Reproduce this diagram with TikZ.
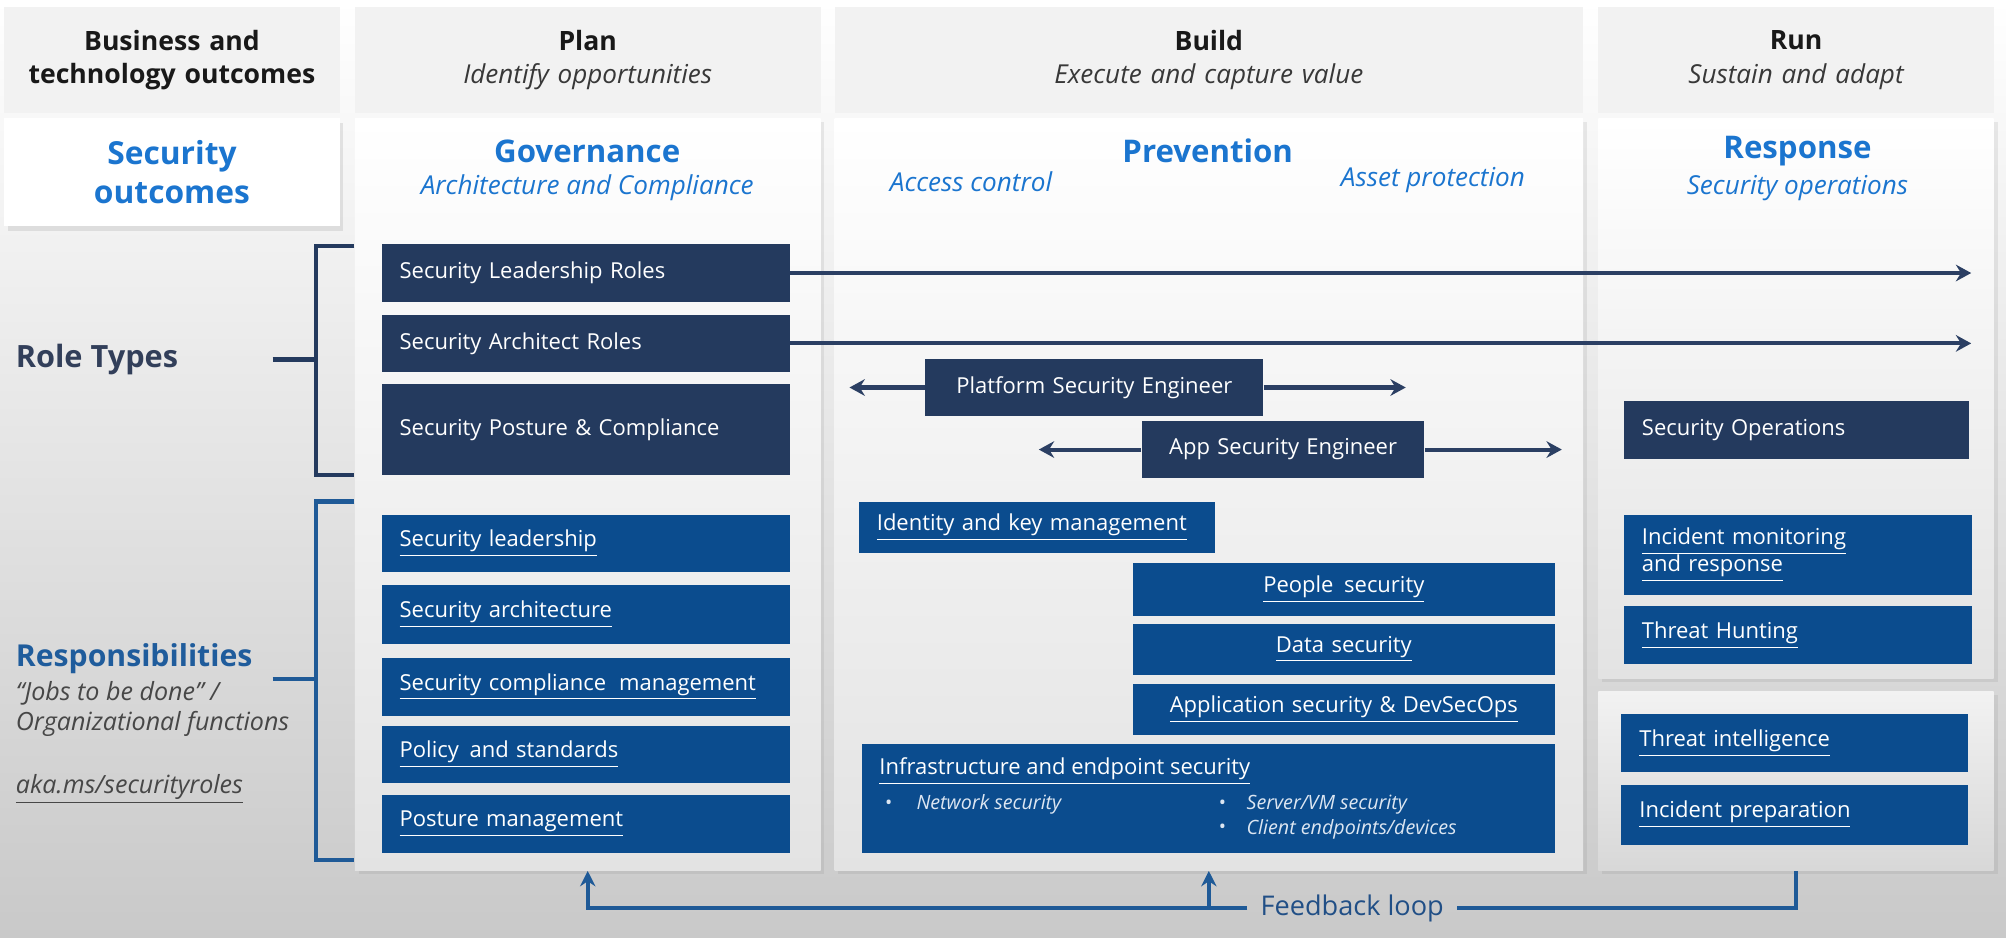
\documentclass[tikz,border=0pt]{standalone}
\usepackage{fontspec}
\setmainfont{Open Sans}
\usetikzlibrary{arrows.meta,shadows}
\definecolor{navy}{HTML}{243A5E}
\definecolor{bluebx}{HTML}{0B4C8E}
\definecolor{titleblue}{HTML}{1B75CF}
\definecolor{arrnavy}{HTML}{2B3F63}
\definecolor{hdrgray}{HTML}{F2F2F2}
\definecolor{bodybot}{HTML}{E3E3E3}
\definecolor{bgmid}{HTML}{F5F5F5}
\definecolor{bgbot}{HTML}{C9C9C9}
\definecolor{rolecol}{HTML}{323F5A}
\definecolor{respcol}{HTML}{1F5C9C}
\definecolor{brblue}{HTML}{1F5A97}
\definecolor{fbcol}{HTML}{214F86}
\definecolor{bullcol}{HTML}{DCE6F2}
\newcommand\lbox[7]{%
 \pgfmathsetmacro\bw{(#5-#3)*0.5}\pgfmathsetmacro\bh{(#6-#4)*0.5}\pgfmathsetmacro\tw{\bw-14}%
 \node[#2, anchor=north west, minimum width=\bw pt, minimum height=\bh pt, inner xsep=7pt, inner ysep=0pt, text width=\tw pt, align=left] (#1) at (#3,#4) {#7};}
\newcommand\cbox[7]{%
 \pgfmathsetmacro\bw{(#5-#3)*0.5}\pgfmathsetmacro\bh{(#6-#4)*0.5}\pgfmathsetmacro\tw{\bw-14}%
 \node[#2, anchor=north west, minimum width=\bw pt, minimum height=\bh pt, inner xsep=7pt, inner ysep=0pt, text width=\tw pt, align=center] (#1) at (#3,#4) {#7};}
\newcommand\hsub[1]{{\mdseries\itshape\fontsize{10.2}{13}\selectfont\color{black!78}#1}}
\begin{document}
\begin{tikzpicture}[x=0.5pt,y=-0.5pt,
  hdr/.style={fill=hdrgray, text=black!90, font=\fontsize{10.4}{13}\selectfont},
  body/.style={top color=white, bottom color=bodybot, drop shadow={shadow xshift=1.5pt, shadow yshift=-1.5pt, opacity=0.15}},
  lowbody/.style={top color=hdrgray, bottom color=bodybot!95!black, drop shadow={shadow xshift=1.5pt, shadow yshift=-1.5pt, opacity=0.15}},
  navybox/.style={fill=navy, text=white, font=\fontsize{8.6}{10.6}\selectfont},
  bluebox/.style={fill=bluebx, text=white, font=\fontsize{8.6}{10.6}\selectfont},
  ttl/.style={text=titleblue, font=\bfseries\fontsize{12.2}{15}\selectfont, inner sep=0},
  sub/.style={text=titleblue, font=\itshape\fontsize{10.2}{12}\selectfont, inner sep=0},
  bull/.style={text=bullcol, font=\itshape\fontsize{7.7}{9}\selectfont, inner sep=0, anchor=west},
  lefttxt/.style={anchor=west, inner sep=0, text=black!72, font=\itshape\fontsize{9.8}{12}\selectfont},
  arr/.style={draw=arrnavy, line width=1.6pt, -{Stealth[length=6pt,width=6.5pt,inset=2pt]}},
  fbline/.style={draw=brblue, line width=1.6pt},
  fbarr/.style={fbline, -{Stealth[length=6pt,width=6pt,inset=2pt]}}
]
\useasboundingbox (0,0) rectangle (1568,733);
\shade[top color=white, middle color=bgmid, bottom color=bgbot] (0,0) rectangle (1568,733);

% headers
\cbox{hdr0}{hdr}{3}{5}{265}{88}{\textbf{Business and}\\\textbf{technology outcomes}}
\cbox{hdr1}{hdr}{277}{5}{641}{88}{\textbf{Plan}\\\hsub{Identify opportunities}}
\cbox{hdr2}{hdr}{652}{5}{1237}{88}{\textbf{Build}\\\hsub{Execute and capture value}}
\cbox{hdr3}{hdr}{1249}{5}{1558}{88}{\textbf{Run}\\\hsub{Sustain and adapt}}

% bodies
\cbox{secout}{fill=white, drop shadow={shadow xshift=1.5pt, shadow yshift=-2pt, opacity=0.18}, text=titleblue, font=\bfseries\fontsize{12.4}{15.5}\selectfont}{3}{92}{265}{176}{Security\\outcomes}
\cbox{planbody}{body}{277}{92}{641}{680}{}
\cbox{buildbody}{body}{652}{92}{1237}{680}{}
\cbox{runup}{body}{1249}{92}{1558}{530}{}
\cbox{runlow}{lowbody}{1249}{540}{1558}{680}{}

% column titles
\node[ttl] (gov) at (459,118) {Governance};
\node[sub] (govsub) at (459,147) {Architecture and Compliance};
\node[ttl] (prev) at (944,118) {Prevention};
\node[sub] (acc) at (759,142) {Access control};
\node[sub] (asset) at (1120,141) {Asset protection};
\node[ttl] (resp) at (1405,118) {Response};
\node[sub] (respsub) at (1405,147) {Security operations};

% left labels
\node[anchor=west, inner sep=0, text=rolecol, font=\bfseries\fontsize{12}{14}\selectfont] (roletypes) at (12,281) {Role Types};
\node[anchor=west, inner sep=0, text=respcol, font=\bfseries\fontsize{11.8}{14}\selectfont] (respons) at (12,515) {Responsibilities};
\node[lefttxt] (jobs) at (12,542) {“Jobs to be done” /};
\node[lefttxt] (orgf) at (12,566) {Organizational functions};
\node[lefttxt] (aka) at (12,617) {\underline{aka.ms/securityroles}};

% brackets
\coordinate (rtb) at (213,281);
\draw[draw=navy, line width=1.6pt] (rtb) -- (247,281);
\draw[draw=navy, line width=1.6pt] (277,192) -- (247,192) -- (247,371) -- (277,371);
\coordinate (rsb) at (213,531);
\draw[draw=brblue, line width=1.6pt] (rsb) -- (247,531);
\draw[draw=brblue, line width=1.6pt] (277,392) -- (247,392) -- (247,672) -- (277,672);

% role boxes
\lbox{slr}{navybox}{298}{190}{617}{236}{Security Leadership Roles}
\lbox{sar}{navybox}{298}{246}{617}{290}{Security Architect Roles}
\lbox{spc}{navybox}{298}{300}{617}{371}{Security Posture \& Compliance}
\cbox{pse}{navybox}{723}{280}{987}{325}{Platform Security Engineer}
\cbox{ase}{navybox}{892}{329}{1113}{373}{App Security Engineer}
\lbox{sop}{navybox}{1269}{313}{1539}{358}{Security Operations}

\draw[arr] (slr.east) -- ++(923,0);
\draw[arr] (sar.east) -- ++(923,0);
\draw[arr] (pse.west) -- ++(-59,0);
\draw[arr] (pse.east) -- ++(111,0);
\draw[arr] (ase.west) -- ++(-80,0);
\draw[arr] (ase.east) -- ++(107,0);

% responsibilities - plan
\lbox{r1}{bluebox}{298}{402}{617}{447}{\underline{Security leadership}}
\lbox{r2}{bluebox}{298}{457}{617}{503}{\underline{Security architecture}}
\lbox{r3}{bluebox}{298}{514}{617}{559}{\underline{Security compliance\hspace{0.25em} management}}
\lbox{r4}{bluebox}{298}{567}{617}{612}{\underline{Policy\hspace{0.15em} and standards}}
\lbox{r5}{bluebox}{298}{621}{617}{666}{\underline{Posture management}}

% build
\lbox{b1}{bluebox, inner xsep=8pt}{671}{392}{949}{432}{\underline{Identity and key management}}
\cbox{b2}{bluebox}{885}{440}{1215}{481}{\underline{People\hspace{0.15em} security}}
\cbox{b3}{bluebox}{885}{487}{1215}{527}{\underline{Data security}}
\cbox{b4}{bluebox}{885}{534}{1215}{574}{\underline{Application security \& DevSecOps}}
\cbox{inf}{bluebox}{673}{581}{1215}{666}{}
\node[anchor=west, inner sep=0, text=white, font=\fontsize{8.6}{10.6}\selectfont] (inft) at (687,603) {\underline{Infrastructure and endpoint security}};
\node[bull] (d1) at (691,629) {•};
\node[bull] (n1) at (716,629) {Network security};
\node[bull] (d2) at (952,629) {•};
\node[bull] (n2) at (974,629) {Server/VM security};
\node[bull] (d3) at (952,648) {•};
\node[bull] (n3) at (974,648) {Client endpoints/devices};

% run
\lbox{u1}{bluebox}{1269}{402}{1541}{465}{\underline{Incident monitoring}\\\underline{and response}}
\lbox{u2}{bluebox}{1269}{473}{1541}{519}{\underline{Threat Hunting}}
\lbox{u3}{bluebox}{1267}{558}{1538}{603}{\underline{Threat intelligence}}
\lbox{u4}{bluebox}{1267}{613}{1538}{660}{\underline{Incident preparation}}

% feedback loop
\node[inner xsep=5pt, text=fbcol, font=\fontsize{10.6}{12}\selectfont] (fb) at (1057,710) {Feedback loop};
\draw[fbarr] (fb.west) -| (planbody.south);
\draw[fbarr] (fb.west -| buildbody.south) -- (buildbody.south);
\draw[fbline] (fb.east) -| (runlow.south);
\end{tikzpicture}
\end{document}
